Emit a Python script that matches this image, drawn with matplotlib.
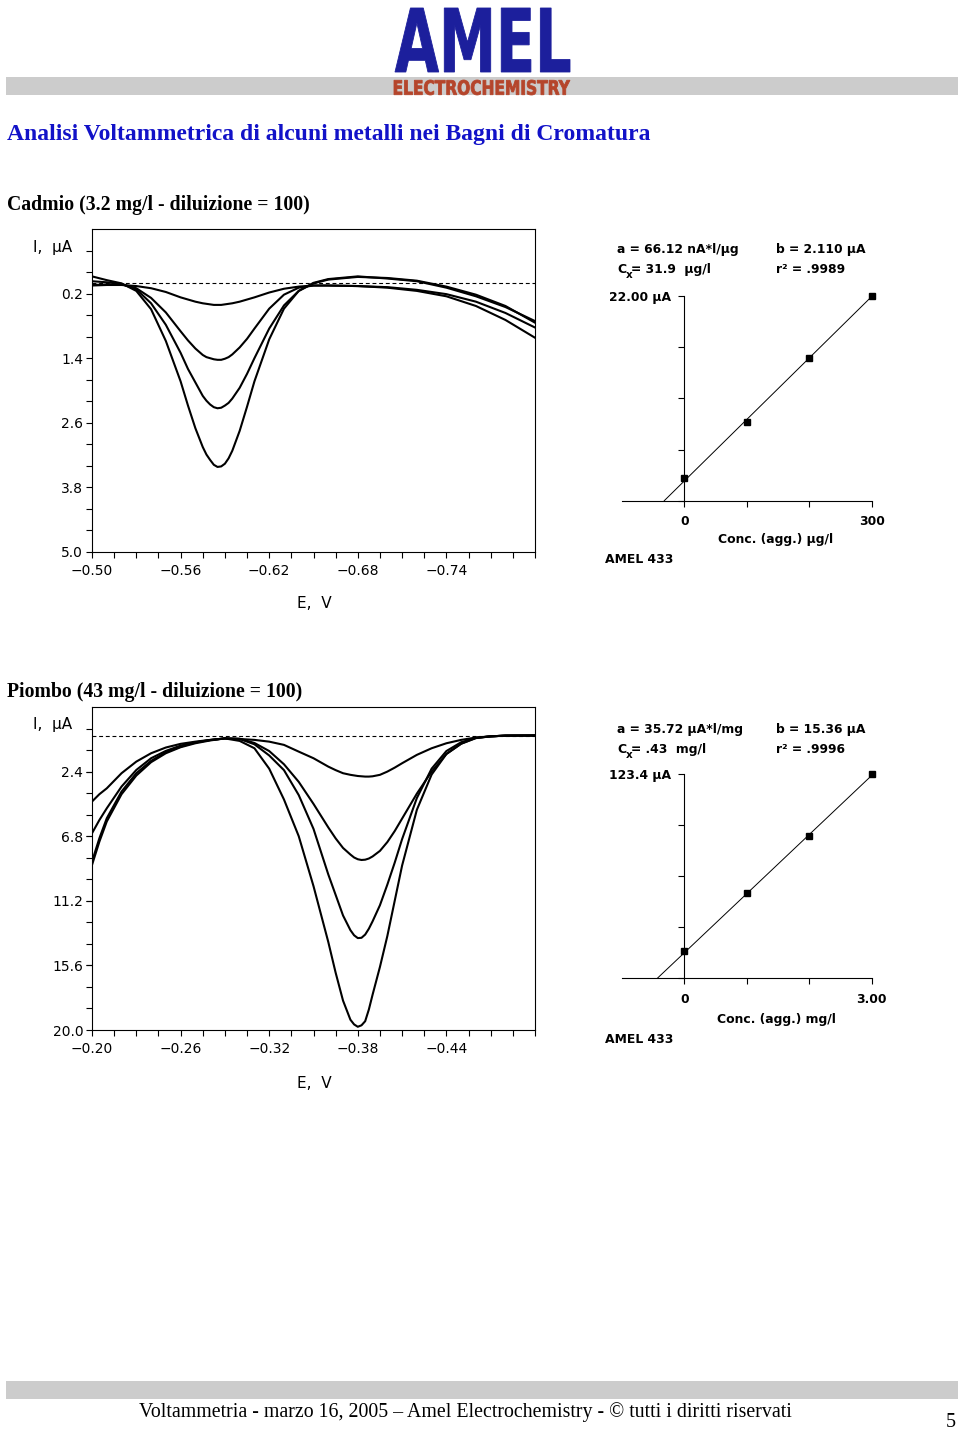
################################################################################
import numpy as np;
import matplotlib as mpl;
mpl.use('Agg');
import matplotlib.pyplot as plt;
from matplotlib.textpath import TextPath;
from matplotlib.patches import PathPatch, Rectangle;
from matplotlib.font_manager import FontProperties;
from matplotlib.transforms import Affine2D;
################################################################################
# data
# cadmio voltammograms (E in V, I in uA, 4 standard additions)
cd_E = [-0.500, -0.510, -0.520, -0.530, -0.540, -0.550, -0.560, -0.565,
        -0.570, -0.575, -0.5775, -0.580, -0.5825, -0.585, -0.5875, -0.590,
        -0.5925, -0.595, -0.600, -0.605, -0.610, -0.620, -0.630, -0.640,
        -0.650, -0.660, -0.680, -0.700, -0.720, -0.740, -0.760, -0.780,
        -0.800];
cd_I1 = [0.05, 0.04, 0.04, 0.06, 0.10, 0.17, 0.27, 0.31, 0.35, 0.38, 0.39,
         0.40, 0.41, 0.41, 0.41, 0.40, 0.39, 0.38, 0.35, 0.31, 0.27, 0.18,
         0.11, 0.07, 0.05, 0.05, 0.06, 0.09, 0.15, 0.25, 0.43, 0.69, 1.02];
cd_I2 = [0.04, 0.03, 0.03, 0.10, 0.28, 0.55, 0.90, 1.07, 1.22, 1.34, 1.38,
         1.40, 1.42, 1.43, 1.43, 1.41, 1.38, 1.33, 1.20, 1.04, 0.85, 0.48,
         0.22, 0.09, 0.05, 0.05, 0.06, 0.08, 0.13, 0.21, 0.35, 0.56, 0.83];
cd_I3 = [-0.03, -0.01, 0.02, 0.12, 0.38, 0.78, 1.30, 1.60, 1.85, 2.10, 2.19,
         2.26, 2.31, 2.33, 2.32, 2.28, 2.23, 2.15, 1.95, 1.69, 1.40, 0.85,
         0.42, 0.15, 0.01, -0.06, -0.11, -0.09, -0.04, 0.07, 0.22, 0.43, 0.74];
cd_I4 = [-0.12, -0.05, 0.01, 0.15, 0.49, 1.08, 1.83, 2.28, 2.70, 3.05, 3.19,
         3.29, 3.38, 3.42, 3.41, 3.36, 3.26, 3.12, 2.75, 2.30, 1.83, 1.05,
         0.48, 0.15, 0.00, -0.07, -0.12, -0.08, -0.03, 0.09, 0.25, 0.45, 0.71];
cd_yticks = [0.2, 1.4, 2.6, 3.8, 5.0];
cd_xticks = [-0.50, -0.56, -0.62, -0.68, -0.74];
# piombo voltammograms
pb_E = [-0.200, -0.205, -0.210, -0.220, -0.230, -0.240, -0.250, -0.260,
        -0.270, -0.280, -0.290, -0.300, -0.310, -0.320, -0.330, -0.340,
        -0.350, -0.360, -0.365, -0.370, -0.375, -0.3775, -0.380, -0.3825,
        -0.385, -0.3875, -0.390, -0.395, -0.400, -0.405, -0.410, -0.420,
        -0.430, -0.440, -0.450, -0.460, -0.470, -0.480, -0.500];
pb_I1 = [4.44, 3.94, 3.54, 2.51, 1.72, 1.15, 0.76, 0.51, 0.36, 0.24, 0.14,
         0.18, 0.24, 0.36, 0.58, 1.04, 1.49, 2.06, 2.30, 2.51, 2.62, 2.66,
         2.70, 2.72, 2.74, 2.74, 2.72, 2.62, 2.40, 2.13, 1.83, 1.26, 0.81,
         0.47, 0.24, 0.08, 0.00, -0.05, -0.06];
pb_I2 = [6.60, 5.70, 4.90, 3.42, 2.29, 1.49, 0.99, 0.63, 0.40, 0.25, 0.14,
         0.16, 0.45, 1.00, 1.90, 3.10, 4.60, 6.20, 6.95, 7.60, 8.05, 8.25,
         8.37, 8.42, 8.40, 8.32, 8.18, 7.80, 7.20, 6.45, 5.60, 3.90, 2.40,
         1.20, 0.50, 0.12, 0.00, -0.05, -0.06];
pb_I3 = [8.53, 6.94, 5.58, 3.76, 2.51, 1.67, 1.08, 0.70, 0.42, 0.25, 0.14,
         0.18, 0.54, 1.30, 2.30, 4.00, 6.30, 9.40, 10.80, 12.20, 13.20, 13.55,
         13.74, 13.72, 13.50, 13.10, 12.60, 11.50, 10.10, 8.60, 7.00, 4.20,
         2.20, 1.00, 0.40, 0.10, 0.00, -0.05, -0.06];
pb_I4 = [8.76, 7.17, 5.80, 3.94, 2.67, 1.76, 1.15, 0.74, 0.47, 0.28, 0.14,
         0.31, 0.81, 2.20, 4.30, 6.80, 10.20, 14.00, 16.10, 18.00, 19.30,
         19.62, 19.78, 19.68, 19.40, 18.60, 17.60, 15.70, 13.60, 11.20, 8.80,
         5.00, 2.60, 1.20, 0.50, 0.10, 0.00, -0.05, -0.06];
pb_yticks = [2.4, 6.8, 11.2, 15.6, 20.0];
pb_xticks = [-0.20, -0.26, -0.32, -0.38, -0.44];
# calibration (standard additions)
cd_conc = [0, 100, 200, 300];            # ug/l
cd_peak = [2.40, 8.42, 15.37, 22.00];    # uA
cd_a = 0.06612;                          # uA*l/ug
cd_b = 2.110;                            # uA
pb_conc = [0, 1, 2, 3];                  # mg/l
pb_peak = [16.7, 51.7, 86.0, 123.4];     # uA
pb_a = 35.72;                            # uA*l/mg
pb_b = 15.36;                            # uA
################################################################################
W, H = 960, 1430;
fig = plt.figure(figsize=(W/100, H/100), dpi=100);
fig.patch.set_facecolor('white');

def add_ax(l, t, r, b):
    return fig.add_axes([l/W, 1-b/H, (r-l)/W, (b-t)/H]);

def txt(x, y, s, **kw):
    kw.setdefault('va', 'baseline');
    return fig.text(x/W, 1-y/H, s, **kw);

def boxed_text(s, x0, y0, x1, y1, color, family='DejaVu Sans'):
    # stretch a text outline into a pixel box (logo lettering)
    tp = TextPath((0, 0), s, size=1, prop=FontProperties(family=family, weight='bold'));
    ext = tp.get_extents();
    tr = (Affine2D().translate(-ext.x0, -ext.y0)
          .scale((x1-x0)/ext.width, (y1-y0)/ext.height)
          .translate(x0, H-y1).scale(1.0/W, 1.0/H)) + fig.transFigure;
    fig.add_artist(PathPatch(tp, transform=tr, facecolor=color, edgecolor=color, lw=0.6));

def minus(v, fmt):
    return (fmt % v).replace('-', '\u2212');

styles = {
    'curve'   : {'color': 'black', 'lw': 1.5, 'solid_joinstyle': 'round'},
    'dash'    : {'color': 'black', 'lw': 0.8, 'dashes': (3.5, 2.5)},
    'vlabel'  : {'family': 'DejaVu Sans', 'size': 11},
    'clabel'  : {'family': 'DejaVu Sans', 'size': 8.9, 'weight': 'bold'},
    'csub'    : {'family': 'DejaVu Sans', 'size': 7.5, 'weight': 'bold'},
    'fit'     : {'color': 'black', 'lw': 0.7},
    'point'   : {'marker': 's', 'ms': 4.6, 'color': 'black', 'ls': 'none', 'clip_on': False},
};
################################################################################
# page furniture
fig.add_artist(Rectangle((6/W, 1-95/H), 952/W, 18/H, transform=fig.transFigure,
                         facecolor='#cccccc', edgecolor='none'));
fig.add_artist(Rectangle((6/W, 1-1399/H), 952/W, 18/H, transform=fig.transFigure,
                         facecolor='#cccccc', edgecolor='none'));
boxed_text('AMEL', 395, 8, 570, 72, '#1c1f9c');
boxed_text('ELECTROCHEMISTRY', 394, 80, 570, 95, '#b5452b');
txt(7, 140, 'Analisi Voltammetrica di alcuni metalli nei Bagni di Cromatura',
    family='Liberation Serif', weight='bold', size=17, color='#1212c8');
txt(7, 210, 'Cadmio (3.2 mg/l - diluizione = 100)',
    family='Liberation Serif', weight='bold', size=14.2);
txt(7, 696.5, 'Piombo (43 mg/l - diluizione = 100)',
    family='Liberation Serif', weight='bold', size=14.2);
txt(465, 1417, 'Voltammetria - marzo 16, 2005 \u2013 Amel Electrochemistry - \u00a9 tutti i diritti riservati',
    family='Liberation Serif', size=14.3, ha='center');
txt(951, 1427, '5', family='Liberation Serif', size=14.5, ha='center');
################################################################################
# voltammograms
def voltammogram(box, E, curves, xlim, ylim, xticks, xminor, yticks, yminor, ylab_y, xlab_y):
    ax = add_ax(*box);
    for I in curves:
        ax.plot(E, I, **styles['curve']);
    ax.axhline(0, **styles['dash']);
    ax.set_xlim(*xlim);
    ax.set_ylim(*ylim);
    ax.set_xticks(xticks);
    ax.set_xticklabels([minus(v, '%.2f') for v in xticks]);
    ax.set_xticks(xminor, minor=True);
    ax.set_yticks(yticks);
    ax.set_yticklabels([minus(v, '%.1f') for v in yticks]);
    ax.set_yticks(yminor, minor=True);
    ax.tick_params(which='both', direction='out', length=4.3, width=0.8, color='black');
    ax.tick_params(axis='x', pad=4, labelsize=10);
    ax.tick_params(axis='y', pad=2, labelsize=10);
    for lab in ax.get_xticklabels() + ax.get_yticklabels():
        lab.set_family('DejaVu Sans');
    for sp in ax.spines.values():
        sp.set_linewidth(0.8);
    txt(33, ylab_y, 'I,  \u00b5A', **styles['vlabel']);
    txt(297, xlab_y, 'E,  V', **styles['vlabel']);
    return ax;

voltammogram((92, 229, 535, 552), cd_E, [cd_I1, cd_I2, cd_I3, cd_I4],
             (-0.50, -0.80), (5.0, -1.0), cd_xticks,
             np.arange(-0.50, -0.801, -0.015), cd_yticks,
             np.arange(-0.6, 5.0, 0.4), 252, 607.5);
voltammogram((92, 707, 535, 1030), pb_E, [pb_I1, pb_I2, pb_I3, pb_I4],
             (-0.20, -0.50), (20.0, -2.0), pb_xticks,
             np.arange(-0.20, -0.501, -0.015), pb_yticks,
             np.arange(-0.533, 20.0, 4.4/3), 729, 1087.5);
################################################################################
# calibration plots
def calibration(box, conc, peak, a, b, xlim, ylab, xlabs, texts, y0):
    ax = add_ax(*box);
    ax.patch.set_alpha(0);
    ax.set_xlim(*xlim);
    ax.set_ylim(0, peak[-1]);
    ax.spines['top'].set_visible(False);
    ax.spines['right'].set_visible(False);
    ax.spines['left'].set_position(('data', 0));
    for sp in ax.spines.values():
        sp.set_linewidth(0.8);
    ax.set_xticks(conc);
    ax.set_xticklabels(xlabs);
    ax.set_yticks(np.linspace(0, peak[-1], 5));
    ax.set_yticklabels(['', '', '', '', ylab]);
    ax.tick_params(which='both', direction='out', length=4.3, width=0.8);
    ax.tick_params(axis='x', pad=6);
    ax.tick_params(axis='y', pad=5);
    for lab in ax.get_xticklabels() + ax.get_yticklabels():
        lab.set_fontproperties(FontProperties(**styles['clabel']));
    xx = np.array([-b/a, conc[-1]]);
    ax.plot(xx, b + a*xx, **styles['fit']);
    ax.plot(conc, peak, **styles['point']);
    # fit summary above and legend below
    txt(617, y0, texts[0], **styles['clabel']);
    txt(776, y0, texts[1], **styles['clabel']);
    txt(617, y0+20, 'C', **styles['clabel']);
    txt(625.5, y0+25, 'x', **styles['csub']);
    txt(631, y0+20, texts[2], **styles['clabel']);
    txt(776, y0+20, texts[3], **styles['clabel']);
    txt(776, y0+290.5, texts[4], ha='center', **styles['clabel']);
    txt(605, y0+310, 'AMEL 433', **styles['clabel']);
    return ax;

calibration((621.7, 296, 871.7, 500.7), cd_conc, cd_peak, cd_a, cd_b, (-100, 300),
            '22.00 \u00b5A', ['0', '', '', '300'],
            ['a = 66.12 nA*l/\u00b5g', 'b = 2.110 \u00b5A', '= 31.9  \u00b5g/l',
             'r\u00b2 = .9989', 'Conc. (agg.) \u00b5g/l'], 252.7);
calibration((621.7, 774, 871.7, 978.3), pb_conc, pb_peak, pb_a, pb_b, (-1, 3),
            '123.4 \u00b5A', ['0', '', '', '3.00'],
            ['a = 35.72 \u00b5A*l/mg', 'b = 15.36 \u00b5A', '= .43  mg/l',
             'r\u00b2 = .9996', 'Conc. (agg.) mg/l'], 732.7);
################################################################################
fig.savefig('out.png', dpi=100, facecolor='white');
plt.close(fig);
